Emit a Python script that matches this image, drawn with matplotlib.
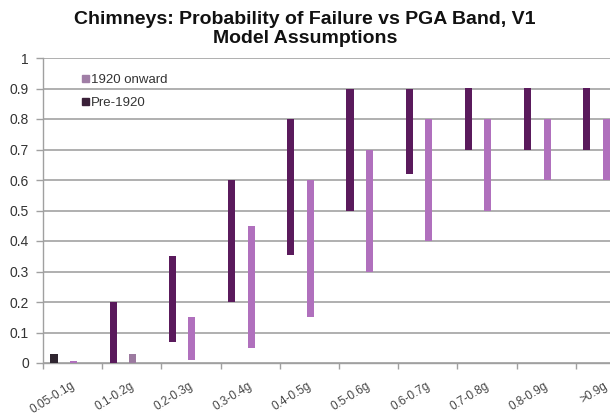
import matplotlib
matplotlib.use("Agg")
import matplotlib.pyplot as plt
import numpy as np
from matplotlib.patches import Patch

categories = ["0.05-0.1g", "0.1-0.2g", "0.2-0.3g", "0.3-0.4g", "0.4-0.5g",
              "0.5-0.6g", "0.6-0.7g", "0.7-0.8g", "0.8-0.9g", ">0.9g"]
pre1920_low = [0.0, 0.0, 0.07, 0.20, 0.355, 0.50, 0.62, 0.70, 0.70, 0.70]
pre1920_high = [0.03, 0.20, 0.35, 0.60, 0.80, 0.90, 0.90, 0.90, 0.90, 0.90]
onward_low = [0.0, 0.0, 0.01, 0.05, 0.15, 0.30, 0.40, 0.50, 0.60, 0.60]
onward_high = [0.005, 0.03, 0.15, 0.45, 0.60, 0.70, 0.80, 0.80, 0.80, 0.80]
yticks = [0, 0.1, 0.2, 0.3, 0.4, 0.5, 0.6, 0.7, 0.8, 0.9, 1]
ytick_labels = ["0", "0.1", "0.2", "0.3", "0.4", "0.5", "0.6", "0.7", "0.8", "0.9", "1"]

plt.rcParams['font.family'] = ['Liberation Sans', 'DejaVu Sans']

W, H = 610, 416
fig = plt.figure(figsize=(W / 100, H / 100), dpi=100)
left, right, top, bottom = 43, 635, 58, 363
ax = fig.add_axes([left / W, 1 - bottom / H, (right - left) / W, (bottom - top) / H])

x = np.arange(len(categories))
pre_col = ['#2f2530'] + ['#5a1a5c'] * 9
on_col = ['#b070bd', '#9c7aa0'] + ['#b070bd'] * 8
bw = 0.12
pre_h = np.array(pre1920_high) - np.array(pre1920_low)
on_h = np.array(onward_high) - np.array(onward_low)
ax.bar(x - 0.315, pre_h, bottom=pre1920_low, width=bw, color=pre_col, zorder=3)
ax.bar(x + 0.015, on_h, bottom=onward_low, width=bw, color=on_col, zorder=3)

ax.set_xlim(-0.5, len(categories) - 0.5)
ax.set_ylim(0, 1)
ax.set_yticks(yticks)
ax.set_yticklabels(ytick_labels, fontsize=10, color='#333333')
ax.yaxis.grid(True, color='#9a9a9a', linewidth=1.1, zorder=0)
ax.set_axisbelow(True)

ax.set_xticks(x)
ax.set_xticklabels([])
ax.set_xticks(np.arange(len(categories) + 1) - 0.5, minor=True)
ax.tick_params(axis='x', which='major', length=0)
ax.tick_params(axis='x', which='minor', length=4, color='#a0a0a0', width=1)
ax.tick_params(axis='y', length=5, color='#a0a0a0', width=1, pad=5)

for i, lab in enumerate(categories):
    ax.text(i - 0.04, -0.055, lab, rotation=32, ha='right', va='top',
            rotation_mode='anchor', fontsize=8.5, color='#444444',
            transform=ax.transData)

for s in ['top', 'right']:
    ax.spines[s].set_visible(False)
ax.spines['left'].set_color('#a0a0a0')
ax.spines['bottom'].set_color('#a0a0a0')
ax.spines['left'].set_linewidth(1)
ax.spines['bottom'].set_linewidth(1)

handles = [Patch(color='#a07ea6', label='1920 onward'), Patch(color='#3a2038', label='Pre-1920')]
leg = ax.legend(handles=handles, loc='upper left',
                bbox_to_anchor=((82 - left) / (right - left), 1 - (74 - top) / (bottom - top)),
                frameon=False, fontsize=9.5, handlelength=0.5, handleheight=0.5,
                handletextpad=0.2, labelspacing=0.85, borderaxespad=0, borderpad=0)
for t in leg.get_texts():
    t.set_color('#333333')

fig.text(305 / W, 1 - 11 / H, "Chimneys: Probability of Failure vs PGA Band, V1\nModel Assumptions",
         ha='center', va='top', fontsize=14, fontweight='bold', color='#111111',
         linespacing=1.18)

fig.savefig("out.png", dpi=100)
